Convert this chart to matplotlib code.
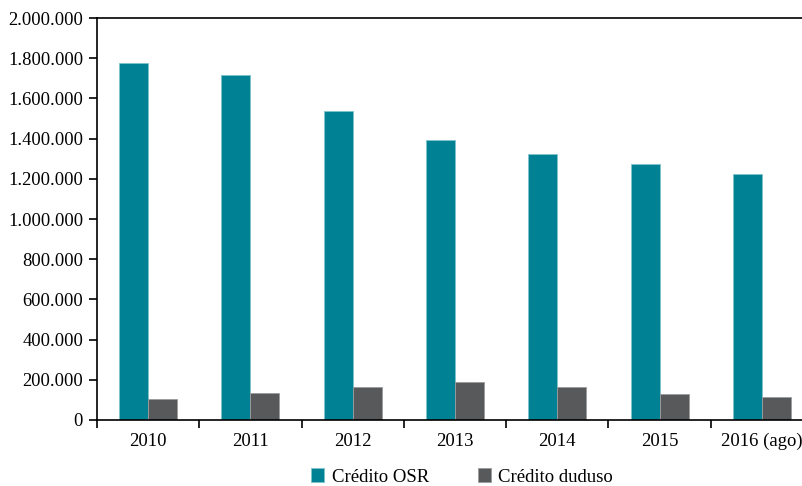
import matplotlib
matplotlib.use('Agg')
import matplotlib.pyplot as plt
import numpy as np
from matplotlib.ticker import FuncFormatter

# Data
years = ['2010', '2011', '2012', '2013', '2014', '2015', '2016 (ago)']
credito_osr = [1774000, 1716000, 1537000, 1393000, 1323000, 1274000, 1224000]
credito_duduso = [103000, 136000, 163000, 188000, 163000, 128000, 112000]

teal = '#008294'
grey = '#58595b'

plt.rcParams['font.family'] = ['Liberation Serif', 'DejaVu Serif']

fig = plt.figure(figsize=(8.02, 4.86), dpi=100)
ax = fig.add_axes([97 / 802, 1 - 420 / 486, 716 / 802, 402 / 486])

x = np.arange(len(years))
width = 0.284

ax.bar(x - width / 2, credito_osr, width, color=teal, edgecolor='#7fc3cc',
       linewidth=0.6, label='Crédito OSR')
ax.bar(x + width / 2, credito_duduso, width, color=grey, edgecolor='#9a9b9d',
       linewidth=0.6, label='Crédito duduso')

ax.set_xlim(-0.5, len(years) - 0.5)
ax.set_ylim(0, 2000000)
ax.set_yticks(np.arange(0, 2000001, 200000))
ax.yaxis.set_major_formatter(FuncFormatter(lambda v, p: f'{int(v):,}'.replace(',', '.')))

# category ticks on boundaries, labels centered
ax.set_xticks(np.arange(len(years) + 1) - 0.5)
ax.set_xticklabels([])
ax.set_xticks(x, minor=True)
ax.set_xticklabels(years, minor=True)
ax.tick_params(axis='x', which='minor', length=0, pad=9, labelsize=13.5)
ax.tick_params(axis='x', which='major', length=6, width=1.2, direction='out')
ax.tick_params(axis='y', length=6, width=1.2, direction='out', pad=4, labelsize=13.3)

for s in ['left', 'bottom', 'top']:
    ax.spines[s].set_linewidth(1.2)
ax.spines['right'].set_visible(False)

leg = fig.legend(loc='center', bbox_to_anchor=(462 / 802, 1 - 477 / 486), ncol=2,
                 frameon=False, fontsize=13.5, handlelength=0.7, handleheight=0.7,
                 columnspacing=2.6, handletextpad=0.4)

plt.savefig('out.png', dpi=100)
plt.close()
